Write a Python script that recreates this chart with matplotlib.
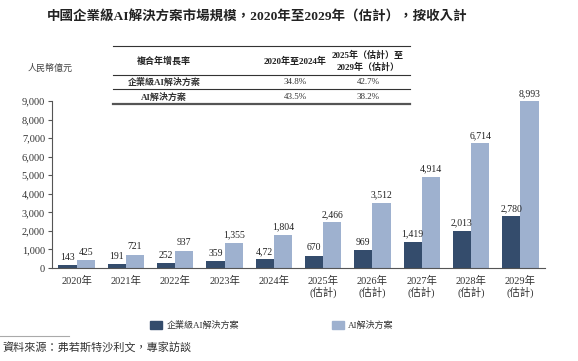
import numpy as np
import matplotlib
matplotlib.use('Agg')
import matplotlib.pyplot as plt
from matplotlib.lines import Line2D
from matplotlib.patches import Rectangle

plt.rcParams['font.family'] = ['Liberation Serif', 'Noto Sans CJK TC']

years = ['2020年', '2021年', '2022年', '2023年', '2024年',
         '2025年\n(估計)', '2026年\n(估計)', '2027年\n(估計)', '2028年\n(估計)', '2029年\n(估計)']
enterprise = [143, 191, 252, 359, 472, 670, 969, 1419, 2013, 2780]
enterprise_labels = ['143', '191', '252', '359', '4,72', '670', '969', '1,419', '2,013', '2,780']
ai_total = [425, 721, 937, 1355, 1804, 2466, 3512, 4914, 6714, 8993]

cagr_header = ['複合年增長率', '2020年至2024年', '2025年（估計）至\n2029年（估計）']
cagr_rows = [['企業級AI解決方案', '34.8%', '42.7%'],
             ['AI解決方案', '43.5%', '38.2%']]

dark = '#344c6c'
light = '#9eb1cf'
W, H = 578, 361

fig = plt.figure(figsize=(W / 100, H / 100), dpi=100)
ax = fig.add_axes([52 / W, 1 - 268 / H, 493 / W, 167 / H])

x = np.arange(len(years))
bw = 0.37
ax.bar(x - bw / 2, enterprise, bw, color=dark)
ax.bar(x + bw / 2, ai_total, bw, color=light)
for i in range(len(years)):
    ax.text(x[i] - bw / 2, enterprise[i] + 170, enterprise_labels[i], ha='center', va='bottom',
            fontsize=7, color='#222222')
    ax.text(x[i] + bw / 2, ai_total[i] + 170, f'{ai_total[i]:,}', ha='center', va='bottom',
            fontsize=7, color='#222222')

ax.set_xlim(-0.5, len(years) - 0.5)
ax.set_ylim(0, 9000)
ax.set_yticks(range(0, 9001, 1000))
ax.set_yticklabels([f'{v:,}' for v in range(0, 9001, 1000)], fontsize=7.5, color='#333333')
ax.set_xticks(x)
ax.set_xticklabels(years, fontsize=7.5, color='#333333', linespacing=1.0)
ax.tick_params(axis='x', length=0, pad=6)
ax.tick_params(axis='y', length=3, width=0.8, color='#555555', pad=2)
for s in ['top', 'right']:
    ax.spines[s].set_visible(False)
ax.spines['left'].set_color('#555555')
ax.spines['bottom'].set_color('#555555')

# title
fig.text(257 / W, 1 - 17 / H, '中國企業級AI解決方案市場規模，2020年至2029年（估計），按收入計',
         ha='center', va='center', fontsize=9.7, fontweight='bold', color='#222222')
fig.text(50 / W, 1 - 68 / H, '人民幣億元', ha='center', va='center', fontsize=6.5, color='#444444')

# CAGR table
def hline(y, lw=0.8, color='#333333'):
    fig.add_artist(Line2D([113 / W, 410 / W], [1 - y / H, 1 - y / H], lw=lw, color=color))

hline(46)
hline(75)
hline(89)
hline(104, lw=1.6, color='#555555')
cols = [164, 295, 368]
for c, t in zip(cols, cagr_header):
    fig.text(c / W, 1 - 61 / H, t, ha='center', va='center', fontsize=6.5,
             fontweight='bold', color='#222222', linespacing=1.3)
for r, row in enumerate(cagr_rows):
    yy = 82 + r * 15
    for j, (c, t) in enumerate(zip(cols, row)):
        fig.text(c / W, 1 - yy / H, t, ha='center', va='center', fontsize=6.5,
                 fontweight='bold' if j == 0 else 'normal', color='#333333')

# legend
fig.add_artist(Rectangle((150 / W, 1 - 329 / H), 12 / W, 8 / H, color=dark))
fig.text(167 / W, 1 - 325 / H, '企業級AI解決方案', va='center', fontsize=6.5, color='#333333')
fig.add_artist(Rectangle((332 / W, 1 - 329 / H), 12 / W, 8 / H, color=light))
fig.text(348 / W, 1 - 325 / H, 'AI解決方案', va='center', fontsize=6.5, color='#333333')

# source
fig.add_artist(Line2D([0, 69 / W], [1 - 336 / H, 1 - 336 / H], lw=0.8, color='#aaaaaa'))
fig.text(2 / W, 1 - 347 / H, '資料來源：弗若斯特沙利文，專家訪談', va='center', fontsize=8,
         style='italic', color='#333333')

fig.savefig('out.png', dpi=100)
